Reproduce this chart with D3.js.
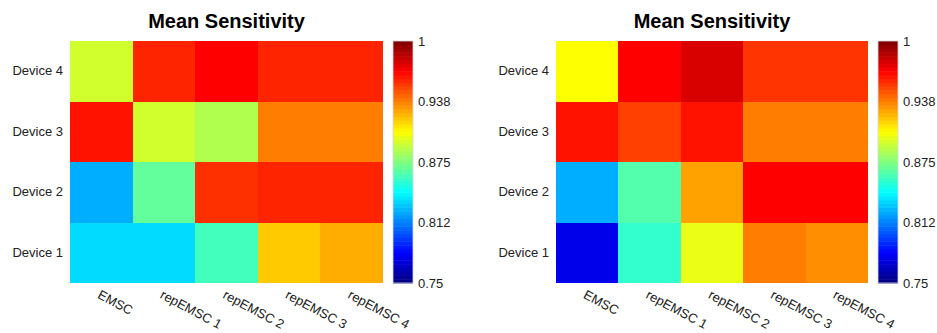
<!DOCTYPE html>
<html>
<head>
<meta charset="utf-8">
<script src="https://cdn.jsdelivr.net/npm/d3@7"></script>
<style>
  html, body { margin: 0; padding: 0; background: #fff; }
  svg { display: block; font-family: "Liberation Sans", Arial, sans-serif; }
</style>
</head>
<body>
<svg id="chart" width="937" height="333"></svg>
<script>
// Methods (columns) and devices (rows, bottom to top)
const methods = ["EMSC", "repEMSC 1", "repEMSC 2", "repEMSC 3", "repEMSC 4"];
const devices = ["Device 1", "Device 2", "Device 3", "Device 4"];

// Mean sensitivity per device (row) and method (column), left panel
const sensitivityLeft = [
  [0.835, 0.835, 0.860, 0.919, 0.926],
  [0.824, 0.868, 0.957, 0.960, 0.960],
  [0.964, 0.895, 0.887, 0.938, 0.938],
  [0.895, 0.960, 0.969, 0.960, 0.960]
];

// Mean sensitivity per device (row) and method (column), right panel
const sensitivityRight = [
  [0.776, 0.856, 0.901, 0.938, 0.934],
  [0.824, 0.864, 0.929, 0.969, 0.969],
  [0.964, 0.953, 0.964, 0.938, 0.938],
  [0.906, 0.969, 0.978, 0.956, 0.956]
];

const colorDomain = [0.75, 1];
const colorTickValues = [0.75, 0.8125, 0.875, 0.9375, 1];
const colorTickLabels = ["0.75", "0.812", "0.875", "0.938", "1"];
const chartTitle = "Mean Sensitivity";

// Jet colormap
function jet(t) {
  const c = v => Math.max(0, Math.min(1, v));
  const r = c(Math.min(4 * t - 1.5, -4 * t + 4.5));
  const g = c(Math.min(4 * t - 0.5, -4 * t + 3.5));
  const b = c(Math.min(4 * t + 0.5, -4 * t + 2.5));
  return d3.rgb(r * 255, g * 255, b * 255).toString();
}
const tScale = d3.scaleLinear().domain(colorDomain).range([0, 1]).clamp(true);
const color = v => jet(tScale(v));

const svg = d3.select("#chart");
const labelFont = "'Liberation Sans', Arial, sans-serif";

function drawPanel(cfg, data) {
  const g = svg.append("g");
  const x = d3.scaleBand().domain(methods).range([cfg.left, cfg.right]);
  const y = d3.scaleBand().domain(devices).range([cfg.bottom, cfg.top]);

  const cells = [];
  data.forEach((row, i) => row.forEach((v, j) => cells.push({ dev: devices[i], m: methods[j], v })));

  g.append("g").selectAll("rect").data(cells).join("rect")
    .attr("x", d => x(d.m))
    .attr("y", d => y(d.dev))
    .attr("width", x.bandwidth() + 0.4)
    .attr("height", y.bandwidth() + 0.4)
    .attr("fill", d => color(d.v))
    .attr("shape-rendering", "crispEdges");

  // Title
  g.append("text")
    .attr("x", (cfg.left + cfg.right) / 2)
    .attr("y", 28)
    .attr("text-anchor", "middle")
    .attr("font-size", 20)
    .attr("font-weight", "bold")
    .attr("fill", "#000")
    .text(chartTitle);

  // Y axis labels
  const yAxis = g.append("g")
    .attr("transform", `translate(${cfg.left},0)`)
    .call(d3.axisLeft(y).tickSize(0).tickPadding(7));
  yAxis.select(".domain").remove();
  yAxis.selectAll("text").attr("font-size", 13).attr("fill", "#222")
    .style("font-family", labelFont);

  // X axis labels, rotated
  const xAxis = g.append("g")
    .attr("transform", `translate(0,${cfg.bottom})`)
    .call(d3.axisBottom(x).tickSize(0).tickPadding(0));
  xAxis.select(".domain").remove();
  xAxis.selectAll("text")
    .attr("font-size", 13)
    .attr("fill", "#222")
    .style("font-family", labelFont)
    .attr("text-anchor", "start")
    .attr("x", 0)
    .attr("y", 0)
    .attr("dy", "0.75em")
    .attr("transform", "translate(0,6) rotate(28)");

  // Colorbar
  const cy = d3.scaleLinear().domain(colorDomain).range([cfg.bottom, cfg.top]);
  const nBands = 64;
  const bands = d3.range(nBands);
  const bandH = (cfg.bottom - cfg.top) / nBands;
  g.append("g").selectAll("rect").data(bands).join("rect")
    .attr("x", cfg.cbLeft)
    .attr("y", i => cfg.bottom - (i + 1) * bandH)
    .attr("width", cfg.cbWidth)
    .attr("height", bandH + 0.5)
    .attr("fill", i => jet((i + 0.5) / nBands));
  g.append("rect")
    .attr("x", cfg.cbLeft)
    .attr("y", cfg.top)
    .attr("width", cfg.cbWidth)
    .attr("height", cfg.bottom - cfg.top)
    .attr("fill", "none")
    .attr("stroke", "#d8d8e0")
    .attr("stroke-width", 0.8);

  const cAxis = g.append("g")
    .attr("transform", `translate(${cfg.cbLeft + cfg.cbWidth},0)`)
    .call(d3.axisRight(cy).tickValues(colorTickValues)
      .tickFormat((d, i) => colorTickLabels[i]).tickSize(0).tickPadding(5));
  cAxis.select(".domain").remove();
  cAxis.selectAll("text").attr("font-size", 13).attr("fill", "#222")
    .style("font-family", labelFont);
}

drawPanel({ left: 70, right: 383, top: 41, bottom: 283, cbLeft: 393, cbWidth: 20 }, sensitivityLeft);
drawPanel({ left: 556, right: 868, top: 41, bottom: 283, cbLeft: 878, cbWidth: 20 }, sensitivityRight);
</script>
</body>
</html>
